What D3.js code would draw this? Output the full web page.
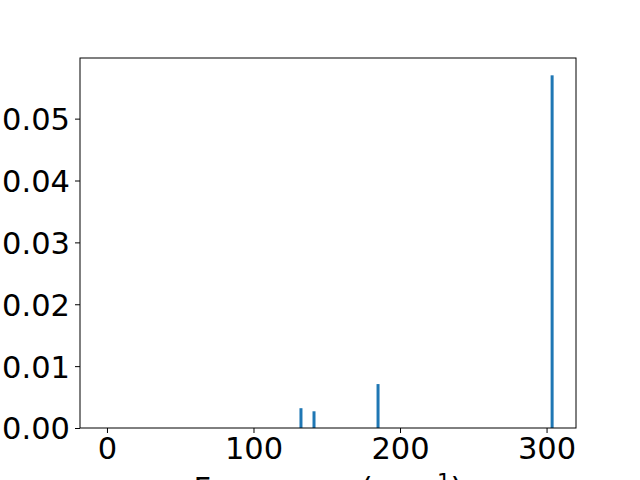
<!DOCTYPE html>
<html>
<head>
<meta charset="utf-8">
<script src="https://cdn.jsdelivr.net/npm/d3@7"></script>
<style>
  body { margin: 0; background: #fff; }
  text { font-family: "DejaVu Sans", sans-serif; }
</style>
</head>
<body>
<div id="app"></div>
<script>
// frequencies (cm^-1) and intensities
const freqs = [132.4, 141.3, 185.0, 303.8];
const intens = [0.0032, 0.0027, 0.0071, 0.0570];
const yTicks = [0, 0.01, 0.02, 0.03, 0.04, 0.05];
const xTicks = [0, 100, 200, 300];

const width = 640, height = 480;
const margin = { left: 80, right: 64, top: 58, bottom: 52 };
const fs = 30.5;

const svg = d3.select("#app").append("svg")
    .attr("width", width)
    .attr("height", height);

const x = d3.scaleLinear()
    .domain([-18.4, 320.1])
    .range([margin.left, width - margin.right]);

const y = d3.scaleLinear()
    .domain([0, 0.0598])
    .range([height - margin.bottom, margin.top]);

// bars
svg.append("g")
    .selectAll("rect")
    .data(freqs)
    .join("rect")
    .attr("x", d => x(d) - 1.5)
    .attr("width", 3)
    .attr("y", (d, i) => y(intens[i]))
    .attr("height", (d, i) => y(0) - y(intens[i]))
    .attr("fill", "#1f77b4");

// axes
const xAxis = svg.append("g")
    .attr("transform", `translate(0,${height - margin.bottom})`)
    .call(d3.axisBottom(x).tickValues(xTicks).tickSize(5).tickPadding(4).tickFormat(d3.format("d")));

const yAxis = svg.append("g")
    .attr("transform", `translate(${margin.left},0)`)
    .call(d3.axisLeft(y).tickValues(yTicks).tickSize(5).tickPadding(5).tickFormat(d3.format(".2f")));

[xAxis, yAxis].forEach(g => {
    g.select(".domain").remove();
    g.selectAll("line").attr("stroke", "#000").attr("stroke-width", 1);
    g.selectAll("text").attr("font-size", fs).attr("fill", "#000")
        .attr("font-family", "DejaVu Sans, sans-serif");
});
yAxis.selectAll("text").attr("dy", "0.36em");

// frame
svg.append("rect")
    .attr("x", margin.left)
    .attr("y", margin.top)
    .attr("width", width - margin.left - margin.right)
    .attr("height", height - margin.top - margin.bottom)
    .attr("fill", "none")
    .attr("stroke", "#000")
    .attr("stroke-width", 1);

// x label (cut by the bottom edge, as in the original)
const xl = svg.append("text")
    .attr("x", (margin.left + width - margin.right) / 2)
    .attr("y", 499)
    .attr("text-anchor", "middle")
    .attr("font-size", fs)
    .attr("fill", "#000");
xl.append("tspan").text("Frequency (cm");
xl.append("tspan").attr("font-size", fs * 0.7).attr("dy", -10).text("\u22121");
xl.append("tspan").attr("dy", 10).text(")");
</script>
</body>
</html>
